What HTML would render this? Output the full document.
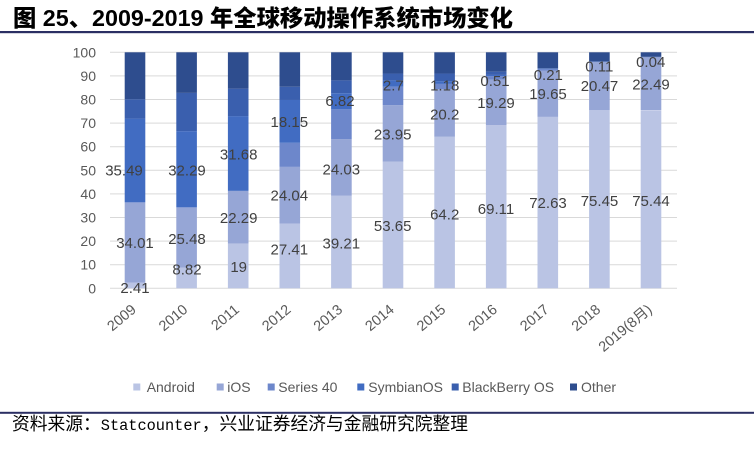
<!DOCTYPE html>
<html>
<head>
<meta charset="utf-8">
<style>
html,body{margin:0;padding:0;background:#fff;}
svg{display:block;}
</style>
</head>
<body>
<svg width="754" height="460" viewBox="0 0 754 460" xmlns="http://www.w3.org/2000/svg">
<rect x="0" y="0" width="754" height="460" fill="#ffffff"/>
<!-- Title -->
<text x="13" y="26" font-family="Liberation Sans, Noto Sans CJK SC, sans-serif" font-weight="900" font-size="23" fill="#000" textLength="500" lengthAdjust="spacingAndGlyphs">图 25、2009-2019 年全球移动操作系统市场变化</text>
<rect x="0" y="31" width="754" height="2.2" fill="#2B2F63"/>

<!-- Gridlines -->
<g stroke="#D9D9D9" stroke-width="1">
<line x1="110" x2="677" y1="52.3" y2="52.3"/>
<line x1="110" x2="677" y1="75.9" y2="75.9"/>
<line x1="110" x2="677" y1="99.5" y2="99.5"/>
<line x1="110" x2="677" y1="123.1" y2="123.1"/>
<line x1="110" x2="677" y1="146.7" y2="146.7"/>
<line x1="110" x2="677" y1="170.3" y2="170.3"/>
<line x1="110" x2="677" y1="193.9" y2="193.9"/>
<line x1="110" x2="677" y1="217.5" y2="217.5"/>
<line x1="110" x2="677" y1="241.1" y2="241.1"/>
<line x1="110" x2="677" y1="264.7" y2="264.7"/>
<line x1="110" x2="677" y1="288.3" y2="288.3"/>
</g>

<!-- Y axis labels -->
<g font-family="Liberation Sans, sans-serif" font-size="14" fill="#595959" text-anchor="end" dominant-baseline="central">
<text x="96" y="52.3">100</text>
<text x="96" y="75.9">90</text>
<text x="96" y="99.5">80</text>
<text x="96" y="123.1">70</text>
<text x="96" y="146.7">60</text>
<text x="96" y="170.3">50</text>
<text x="96" y="193.9">40</text>
<text x="96" y="217.5">30</text>
<text x="96" y="241.1">20</text>
<text x="96" y="264.7">10</text>
<text x="96" y="288.3">0</text>
</g>

<!-- Bars -->
<g transform="translate(124.7,0)">
<rect x="0" width="20.6" y="282.61" height="5.69" fill="#BAC4E4"/>
<rect x="0" width="20.6" y="202.35" height="80.26" fill="#96A6D6"/>
<rect x="0" width="20.6" y="118.59" height="83.76" fill="#416CC2"/>
<rect x="0" width="20.6" y="99.26" height="19.33" fill="#3A5FAE"/>
<rect x="0" width="20.6" y="52.3" height="46.96" fill="#2E4D8E"/>
</g>
<g transform="translate(176.3,0)">
<rect x="0" width="20.6" y="267.48" height="20.82" fill="#BAC4E4"/>
<rect x="0" width="20.6" y="207.35" height="60.13" fill="#96A6D6"/>
<rect x="0" width="20.6" y="131.15" height="76.2" fill="#416CC2"/>
<rect x="0" width="20.6" y="92.89" height="38.26" fill="#3A5FAE"/>
<rect x="0" width="20.6" y="52.3" height="40.59" fill="#2E4D8E"/>
</g>
<g transform="translate(227.9,0)">
<rect x="0" width="20.6" y="243.46" height="44.84" fill="#BAC4E4"/>
<rect x="0" width="20.6" y="190.86" height="52.6" fill="#96A6D6"/>
<rect x="0" width="20.6" y="116.09" height="74.77" fill="#416CC2"/>
<rect x="0" width="20.6" y="88.64" height="27.45" fill="#3A5FAE"/>
<rect x="0" width="20.6" y="52.3" height="36.34" fill="#2E4D8E"/>
</g>
<g transform="translate(279.5,0)">
<rect x="0" width="20.6" y="223.61" height="64.69" fill="#BAC4E4"/>
<rect x="0" width="20.6" y="166.88" height="56.73" fill="#96A6D6"/>
<rect x="0" width="20.6" y="142.81" height="24.07" fill="#6D87CB"/>
<rect x="0" width="20.6" y="99.97" height="42.84" fill="#416CC2"/>
<rect x="0" width="20.6" y="86.76" height="13.21" fill="#3A5FAE"/>
<rect x="0" width="20.6" y="52.3" height="34.46" fill="#2E4D8E"/>
</g>
<g transform="translate(331.1,0)">
<rect x="0" width="20.6" y="195.76" height="92.54" fill="#BAC4E4"/>
<rect x="0" width="20.6" y="139.05" height="56.71" fill="#96A6D6"/>
<rect x="0" width="20.6" y="109.32" height="29.73" fill="#6D87CB"/>
<rect x="0" width="20.6" y="93.22" height="16.1" fill="#416CC2"/>
<rect x="0" width="20.6" y="80.38" height="12.84" fill="#3A5FAE"/>
<rect x="0" width="20.6" y="52.3" height="28.08" fill="#2E4D8E"/>
</g>
<g transform="translate(382.7,0)">
<rect x="0" width="20.6" y="161.69" height="126.61" fill="#BAC4E4"/>
<rect x="0" width="20.6" y="105.16" height="56.53" fill="#96A6D6"/>
<rect x="0" width="20.6" y="86.76" height="18.4" fill="#6D87CB"/>
<rect x="0" width="20.6" y="80.38" height="6.38" fill="#416CC2"/>
<rect x="0" width="20.6" y="73.54" height="6.84" fill="#3A5FAE"/>
<rect x="0" width="20.6" y="52.3" height="21.24" fill="#2E4D8E"/>
</g>
<g transform="translate(434.3,0)">
<rect x="0" width="20.6" y="136.79" height="151.51" fill="#BAC4E4"/>
<rect x="0" width="20.6" y="89.12" height="47.67" fill="#96A6D6"/>
<rect x="0" width="20.6" y="83.92" height="5.2" fill="#6D87CB"/>
<rect x="0" width="20.6" y="81.14" height="2.78" fill="#416CC2"/>
<rect x="0" width="20.6" y="73.54" height="7.6" fill="#3A5FAE"/>
<rect x="0" width="20.6" y="52.3" height="21.24" fill="#2E4D8E"/>
</g>
<g transform="translate(485.9,0)">
<rect x="0" width="20.6" y="125.2" height="163.1" fill="#BAC4E4"/>
<rect x="0" width="20.6" y="79.68" height="45.52" fill="#96A6D6"/>
<rect x="0" width="20.6" y="76.14" height="3.54" fill="#6D87CB"/>
<rect x="0" width="20.6" y="74.93" height="1.21" fill="#416CC2"/>
<rect x="0" width="20.6" y="71.65" height="3.28" fill="#3A5FAE"/>
<rect x="0" width="20.6" y="52.3" height="19.35" fill="#2E4D8E"/>
</g>
<g transform="translate(537.5,0)">
<rect x="0" width="20.6" y="116.89" height="171.41" fill="#BAC4E4"/>
<rect x="0" width="20.6" y="70.52" height="46.37" fill="#96A6D6"/>
<rect x="0" width="20.6" y="69.34" height="1.18" fill="#6D87CB"/>
<rect x="0" width="20.6" y="68.84" height="0.5" fill="#416CC2"/>
<rect x="0" width="20.6" y="68.11" height="0.73" fill="#3A5FAE"/>
<rect x="0" width="20.6" y="52.3" height="15.81" fill="#2E4D8E"/>
</g>
<g transform="translate(589.1,0)">
<rect x="0" width="20.6" y="110.24" height="178.06" fill="#BAC4E4"/>
<rect x="0" width="20.6" y="61.93" height="48.31" fill="#96A6D6"/>
<rect x="0" width="20.6" y="61.27" height="0.66" fill="#3A5FAE"/>
<rect x="0" width="20.6" y="52.3" height="8.97" fill="#2E4D8E"/>
</g>
<g transform="translate(640.7,0)">
<rect x="0" width="20.6" y="110.26" height="178.04" fill="#BAC4E4"/>
<rect x="0" width="20.6" y="57.19" height="52.85" fill="#96A6D6"/>
<rect x="0" width="20.6" y="56.78" height="0.41" fill="#3A5FAE"/>
<rect x="0" width="20.6" y="52.3" height="4.48" fill="#2E4D8E"/>
</g>

<!-- Data labels -->
<g font-family="Liberation Sans, sans-serif" font-size="15" fill="#404040" text-anchor="middle" dominant-baseline="central">
<text x="124" y="171">35.49</text>
<text x="135" y="243.3">34.01</text>
<text x="135" y="288.3">2.41</text>

<text x="187" y="171">32.29</text>
<text x="187" y="239.3">25.48</text>
<text x="187" y="270">8.82</text>

<text x="238.7" y="155">31.68</text>
<text x="238.7" y="218.3">22.29</text>
<text x="238.7" y="267.3">19</text>

<text x="289.3" y="122.7">18.15</text>
<text x="289.3" y="196">24.04</text>
<text x="289.3" y="250">27.41</text>

<text x="340" y="101.7">6.82</text>
<text x="341.3" y="170">24.03</text>
<text x="341.3" y="244">39.21</text>

<text x="393.3" y="86">2.7</text>
<text x="392.7" y="135">23.95</text>
<text x="392.7" y="226.7">53.65</text>

<text x="444.7" y="86">1.18</text>
<text x="444.7" y="115">20.2</text>
<text x="444.7" y="215">64.2</text>

<text x="495" y="81.7">0.51</text>
<text x="496" y="103.3">19.29</text>
<text x="496" y="209.3">69.11</text>

<text x="548.3" y="75.5">0.21</text>
<text x="548" y="94.3">19.65</text>
<text x="548" y="203.3">72.63</text>

<text x="599.3" y="67">0.11</text>
<text x="599.5" y="86.7">20.47</text>
<text x="599.5" y="201.7">75.45</text>

<text x="650.7" y="62.5">0.04</text>
<text x="651" y="85">22.49</text>
<text x="651" y="201.7">75.44</text>
</g>

<!-- X axis labels -->
<g font-family="Liberation Sans, Noto Sans CJK SC, sans-serif" font-size="14.5" fill="#595959" text-anchor="end">
<text transform="translate(137,311) rotate(-40)">2009</text>
<text transform="translate(188.6,311) rotate(-40)">2010</text>
<text transform="translate(240.2,311) rotate(-40)">2011</text>
<text transform="translate(291.8,311) rotate(-40)">2012</text>
<text transform="translate(343.4,311) rotate(-40)">2013</text>
<text transform="translate(395,311) rotate(-40)">2014</text>
<text transform="translate(446.6,311) rotate(-40)">2015</text>
<text transform="translate(498.2,311) rotate(-40)">2016</text>
<text transform="translate(549.8,311) rotate(-40)">2017</text>
<text transform="translate(601.4,311) rotate(-40)">2018</text>
<text transform="translate(653,311) rotate(-40)">2019(8月)</text>
</g>

<!-- Legend -->
<g font-family="Liberation Sans, sans-serif" font-size="14" fill="#595959" dominant-baseline="central">
<rect x="133.3" y="383.5" width="7" height="7" fill="#BAC4E4"/>
<text x="146.7" y="387">Android</text>
<rect x="216.7" y="383.5" width="7" height="7" fill="#96A6D6"/>
<text x="227.3" y="387">iOS</text>
<rect x="267.7" y="383.5" width="7" height="7" fill="#6D87CB"/>
<text x="278.3" y="387">Series 40</text>
<rect x="357.3" y="383.5" width="7" height="7" fill="#416CC2"/>
<text x="368.3" y="387">SymbianOS</text>
<rect x="451.7" y="383.5" width="7" height="7" fill="#3A5FAE"/>
<text x="462.3" y="387">BlackBerry OS</text>
<rect x="570" y="383.5" width="7" height="7" fill="#2E4D8E"/>
<text x="581" y="387">Other</text>
</g>

<!-- Footer -->
<rect x="0" y="411.8" width="754" height="2" fill="#2B2F63"/>
<text x="12" y="430" font-family="Liberation Sans, Noto Sans CJK SC, sans-serif" font-size="18" fill="#000" textLength="456" lengthAdjust="spacingAndGlyphs">资料来源：<tspan font-family="Liberation Mono, monospace" font-size="15.5">Statcounter</tspan>，兴业证券经济与金融研究院整理</text>
</svg>
</body>
</html>
